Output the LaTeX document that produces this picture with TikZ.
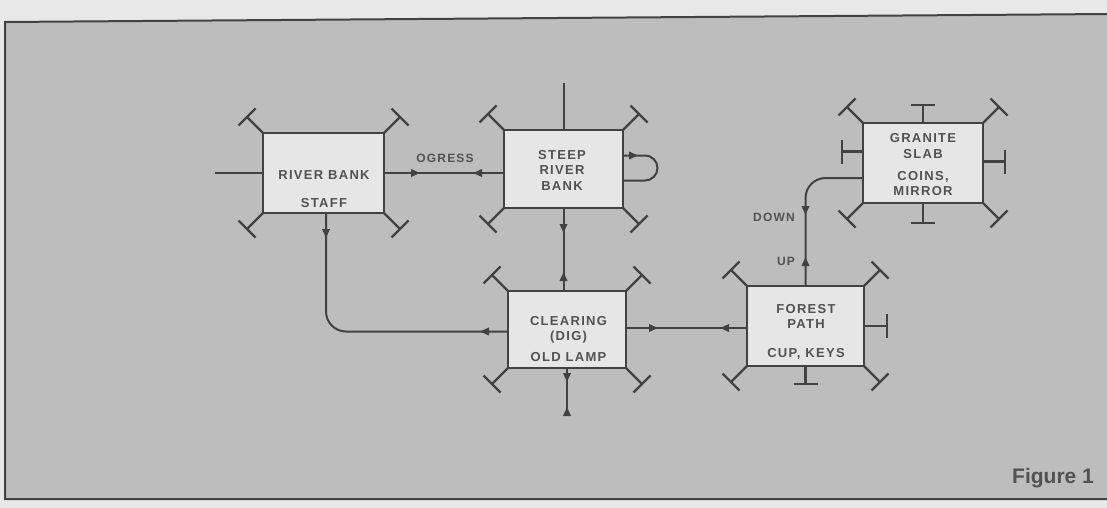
\documentclass[tikz,border=0pt]{standalone}
\usepackage{fontspec}
\setmainfont{Liberation Sans}
\newfontfamily\labfont{Liberation Sans}[LetterSpace=10]
\usetikzlibrary{arrows.meta,decorations.markings,calc}
\definecolor{paper}{HTML}{E8E8E8}
\definecolor{panel}{HTML}{BDBDBD}
\definecolor{ink}{HTML}{424242}
\definecolor{txt}{HTML}{525252}
\definecolor{boxfill}{HTML}{E6E6E6}
\newcommand\cornerstubs[1]{%
 \draw[stub] (#1.north west) -- ++(-16,-16) ++(-8.5,8.5) -- ++(17,-17);
 \draw[stub] (#1.north east) -- ++(16,-16) ++(-8.5,-8.5) -- ++(17,17);
 \draw[stub] (#1.south west) -- ++(-16,16) ++(-8.5,-8.5) -- ++(17,17);
 \draw[stub] (#1.south east) -- ++(16,16) ++(-8.5,8.5) -- ++(17,-17);}
\begin{document}
\begin{tikzpicture}[x=1pt,y=-1pt,
  room/.style={draw=ink, line width=1.6pt, fill=boxfill, rectangle, inner sep=0pt, outer sep=0pt},
  roomtext/.style={font=\labfont\bfseries\fontsize{13}{15.5}\selectfont, text=txt, align=center, inner sep=0pt},
  lab/.style={font=\labfont\bfseries\fontsize{12}{14}\selectfont, text=txt, inner sep=0pt},
  conn/.style={ink, line width=2pt},
  stub/.style={ink, line width=2.2pt},
  fwd/.style={postaction={decorate,decoration={markings,mark=at position #1 with {\arrow{Triangle[length=9pt,width=7.5pt]}}}}},
  bwd/.style={postaction={decorate,decoration={markings,mark=at position #1 with {\arrowreversed{Triangle[length=9pt,width=7.5pt]}}}}}
]
\useasboundingbox (0,0) rectangle (1107,508);
\fill[paper] (0,0) rectangle (1107,508);
\fill[panel] (5,22) -- (1110,14) -- (1110,499) -- (5,499) -- cycle;
\draw[ink, line width=2pt] (1110,14) -- (5,22) -- (5,499) -- (1110,499);

% rooms
\node[room, minimum width=121pt, minimum height=80pt] (rb) at (323.5,173) {};
\node[room, minimum width=119pt, minimum height=78pt] (srb) at (563.5,169) {};
\node[room, minimum width=118pt, minimum height=77pt] (clr) at (567,329.5) {};
\node[room, minimum width=120pt, minimum height=80pt] (gs) at (923,163) {};
\node[room, minimum width=117pt, minimum height=80pt] (fp) at (805.5,326) {};

\node[roomtext] (rbt) at (324,189) {RIVER BANK\\[12.5pt]STAFF};
\node[roomtext] (srbt) at (562,170) {STEEP\\RIVER\\BANK};
\node[roomtext] (clrt) at (568.5,339) {CLEARING\\(DIG)\\[5pt]OLD LAMP};
\node[roomtext] (gst) at (923,165) {GRANITE\\SLAB\\[6.5pt]COINS,\\MIRROR};
\node[roomtext] (fpt) at (806,332) {FOREST\\PATH\\[13.5pt]CUP, KEYS};

% corner stubs
\cornerstubs{rb}
\cornerstubs{srb}
\cornerstubs{clr}
\cornerstubs{gs}
\cornerstubs{fp}

% T stubs
\draw[stub] (gs.north) -- ++(0,-18) ++(-12,0) -- ++(24,0);
\draw[stub] (gs.south) -- ++(0,20) ++(-12,0) -- ++(24,0);
\draw[stub] ([yshift=11.5pt]gs.west) -- ++(-21,0) ++(0,-12) -- ++(0,24);
\draw[stub] ([yshift=1.5pt]gs.east) -- ++(22,0) ++(0,-12) -- ++(0,24);
\draw[stub] (fp.east) -- ++(23,0) ++(0,-12) -- ++(0,24);
\draw[stub] (fp.south) -- ++(0,18) ++(-12,0) -- ++(24,0);

% connectors
\draw[conn] (rb.west) -- ++(-48,0) coordinate (rbexit);
\draw[conn, fwd=36pt, bwd=-31pt] (rb.east) -- (rb.east -| srb.west);
\node[lab] (og) at (445,158) {OGRESS};
\draw[conn] (srb.north) -- ++(0,-47) coordinate (srbexit);
\draw[conn, rounded corners=12.5pt, fwd=15pt] ([yshift=13.5pt]srb.east) -- ++(34.5,0) -- ++(0,25) -- ++(-34.5,0);
\draw[conn, fwd=25pt, bwd=-19pt] (srb.south) -- (srb.south |- clr.north);
\draw[conn, rounded corners=20pt, fwd=25pt, bwd=-28pt] ([xshift=2.5pt]rb.south) |- ([yshift=-2pt]clr.west);
\draw[conn, fwd=32pt, bwd=-27pt] ([yshift=1.5pt]clr.east) -- ([yshift=1.5pt]clr.east -| fp.west);
\draw[conn, fwd=14pt, bwd=-8pt] (clr.south) -- ++(0,47) coordinate (clrexit);
\draw[conn, rounded corners=20pt, fwd=29pt, bwd=71pt] (fp.north) |- ([yshift=-15pt]gs.west);
\node[lab] (up) at (786,261) {UP};
\node[lab] (down) at (774,217) {DOWN};

\node[font=\bfseries\fontsize{21}{24}\selectfont, text=txt, inner sep=0pt] (fig) at (1053,478) {Figure 1};
\end{tikzpicture}
\end{document}
